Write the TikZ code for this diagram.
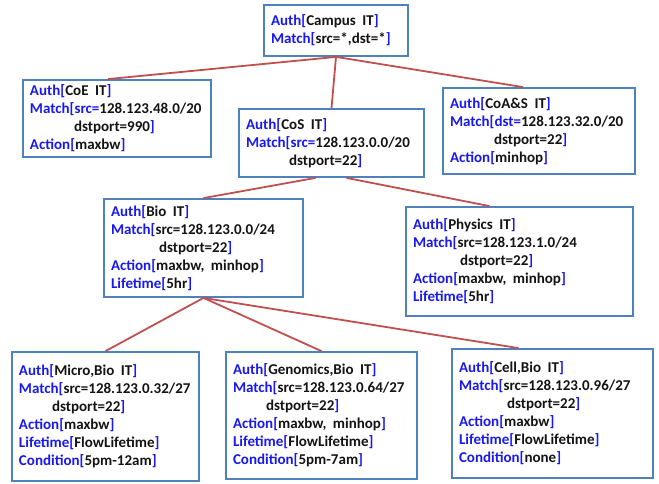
\documentclass[tikz,border=0pt]{standalone}
\usepackage{fontspec}
\setmainfont{Carlito}
\usetikzlibrary{calc}
\definecolor{kw}{RGB}{25,25,235}
\definecolor{bx}{RGB}{79,129,189}
\definecolor{ln}{RGB}{192,80,77}
\definecolor{tx}{RGB}{20,20,20}
\newcommand{\kw}[1]{\textcolor{kw}{#1}}
\newcommand{\ind}[1]{\hspace*{#1pt}}
\newcommand{\wsp}{\ \hspace{1.5pt}}
\begin{document}
\begin{tikzpicture}[x=1pt,y=-1pt,
  box/.style={draw=bx, line width=1.8pt, fill=white, align=left,
    inner xsep=7pt, inner ysep=0pt,
    font=\bfseries\fontsize{15}{18}\selectfont, text=tx},
  link/.style={draw=ln, line width=1.8pt}]
\useasboundingbox (0,0) rectangle (659,483);

\node[box, minimum width=144pt, minimum height=51pt, text width=130pt] (campus) at (336,30.5)
  {\kw{Auth[}Campus\wsp IT\kw{]}\\ \kw{Match[}src=*,dst=*\kw{]}};

\node[box, minimum width=188pt, minimum height=77pt, text width=174pt] (coe) at (117,118.5)
  {\kw{Auth[}CoE\wsp IT\kw{]}\\ \kw{Match[src=}128.123.48.0/20\\ \ind{44}dstport=990\kw{]}\\ \kw{Action[}maxbw\kw{]}};

\node[box, minimum width=185pt, minimum height=68pt, text width=171pt] (cos) at (331.5,143)
  {\kw{Auth[}CoS\wsp IT\kw{]}\\ \kw{Match[src=}128.123.0.0/20\\ \ind{43}dstport=22\kw{]}};

\node[box, minimum width=192pt, minimum height=86pt, text width=178pt] (coas) at (539,131)
  {\kw{Auth[}CoA\&S\wsp IT\kw{]}\\ \kw{Match[dst=}128.123.32.0/20\\ \ind{44}dstport=22\kw{]}\\ \kw{Action[}minhop\kw{]}};

\node[box, minimum width=199pt, minimum height=98pt, text width=185pt] (bio) at (203.5,248)
  {\kw{Auth[}Bio\wsp IT\kw{]}\\ \kw{Match[}src=128.123.0.0/24\\ \ind{48}dstport=22\kw{]}\\ \kw{Action[}maxbw,\wsp minhop\kw{]}\\ \kw{Lifetime[}5hr\kw{]}};

\node[box, minimum width=227pt, minimum height=109pt, text width=213pt] (phys) at (519.5,261.5)
  {\kw{Auth[}Physics\wsp IT\kw{]}\\ \kw{Match[}src=128.123.1.0/24\\ \ind{47}dstport=22\kw{]}\\ \kw{Action[}maxbw,\wsp minhop\kw{]}\\ \kw{Lifetime[}5hr\kw{]}};

\node[box, minimum width=187pt, minimum height=129pt, text width=173pt] (micro) at (105.5,416.5)
  {\kw{Auth[}Micro,Bio\wsp IT\kw{]}\\ \kw{Match[}src=128.123.0.32/27\\ \ind{33}dstport=22\kw{]}\\ \kw{Action[}maxbw\kw{]}\\ \kw{Lifetime[}FlowLifetime\kw{]}\\ \kw{Condition[}5pm-12am\kw{]}};

\node[box, minimum width=191pt, minimum height=127pt, text width=177pt] (gen) at (321.5,415.5)
  {\kw{Auth[}Genomics,Bio\wsp IT\kw{]}\\ \kw{Match[}src=128.123.0.64/27\\ \ind{33}dstport=22\kw{]}\\ \kw{Action[}maxbw,\wsp minhop\kw{]}\\ \kw{Lifetime[}FlowLifetime\kw{]}\\ \kw{Condition[}5pm-7am\kw{]}};

\node[box, minimum width=201pt, minimum height=129pt, text width=187pt] (cell) at (552.5,413.5)
  {\kw{Auth[}Cell,Bio\wsp IT\kw{]}\\ \kw{Match[}src=128.123.0.96/27\\ \ind{48}dstport=22\kw{]}\\ \kw{Action[}maxbw\kw{]}\\ \kw{Lifetime[}FlowLifetime\kw{]}\\ \kw{Condition[}none\kw{]}};

\draw[link] (campus.south) -- ([xshift=-9pt]coe.north);
\draw[link] (campus.south) -- (cos.north);
\draw[link] (campus.south) -- ([xshift=-16pt]coas.north);
\draw[link] ([xshift=-16pt]cos.south) -- (bio.north);
\draw[link] ([xshift=15pt]cos.south) -- ([xshift=-30pt]phys.north);
\draw[link] (bio.south) -- (micro.north);
\draw[link] (bio.south) -- (gen.north);
\draw[link] (bio.south) -- ([xshift=-34pt]cell.north);
\end{tikzpicture}
\end{document}
